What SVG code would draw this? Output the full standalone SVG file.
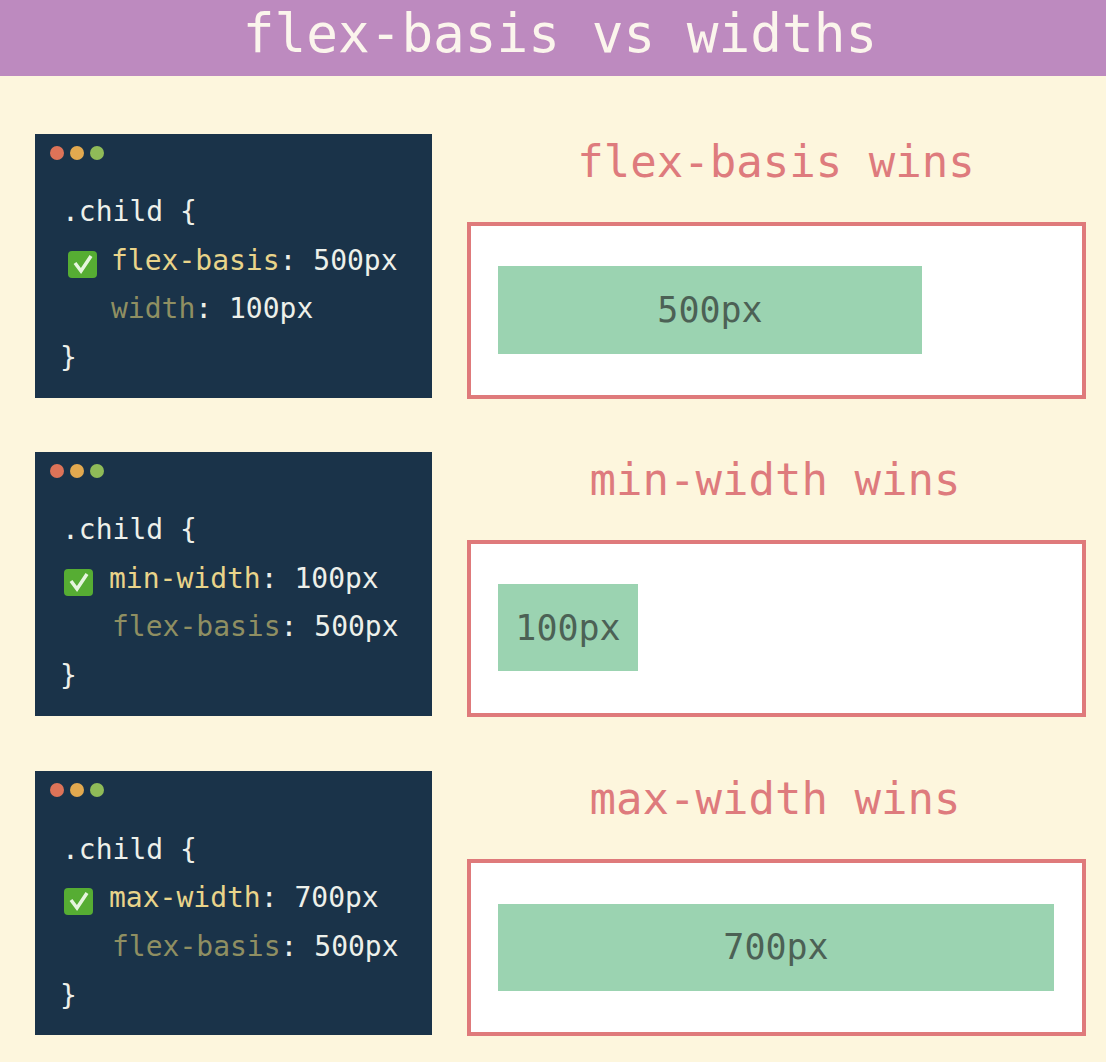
<svg xmlns="http://www.w3.org/2000/svg" width="1106" height="1062" viewBox="0 0 1106 1062">
<style>
.m{font-family:"DejaVu Sans Mono","Liberation Mono",monospace}
.c{font-size:28px;fill:#edf0ea}
.y{fill:#e9d48a}.d{fill:#8f8f62}
.h{font-size:44px;fill:#de7b7d;text-anchor:middle}
.l{font-size:35px;fill:#4c6155;text-anchor:middle}
.card{fill:#1a3349}.box{fill:#fff;stroke:#df7a7b;stroke-width:4}.bar{fill:#9bd3b1}
.chk{fill:#56ad33}.tick{fill:none;stroke:#e6f5de;stroke-width:3.5}
</style>
<rect width="1106" height="1062" fill="#fdf6dd"/>
<g id="title"><rect width="1106" height="76" fill="#bd8abf"/><text class="m" x="560" y="52" font-size="52.7" fill="#fbf5ec" text-anchor="middle">flex-basis vs widths</text></g>
<g id="code1"><rect class="card" x="35" y="134" width="397" height="264"/><circle cx="57" cy="153" r="7" fill="#dd7358"/><circle cx="77" cy="153" r="7" fill="#e2a94f"/><circle cx="97" cy="153" r="7" fill="#8fbb58"/>
<text class="m c" x="62" y="221">.child {</text>
<rect class="chk" x="68" y="251" width="29" height="27" rx="4"/><path class="tick" d="M75 263l6 8 10-15"/>
<text class="m c" x="111" y="270"><tspan class="y">flex-basis</tspan>: 500px</text>
<text class="m c" x="111" y="318"><tspan class="d">width</tspan>: 100px</text>
<text class="m c" x="60" y="367">}</text></g>
<g id="result1"><text class="m h" x="776" y="177">flex-basis wins</text><rect class="box" x="469" y="224" width="615" height="173"/><rect class="bar" x="498" y="266" width="424" height="88"/><text class="m l" x="710" y="322">500px</text></g>
<g id="code2"><rect class="card" x="35" y="452" width="397" height="264"/><circle cx="57" cy="471" r="7" fill="#dd7358"/><circle cx="77" cy="471" r="7" fill="#e2a94f"/><circle cx="97" cy="471" r="7" fill="#8fbb58"/>
<text class="m c" x="62" y="539">.child {</text>
<rect class="chk" x="64" y="569" width="29" height="27" rx="4"/><path class="tick" d="M71 581l6 8 10-15"/>
<text class="m c" x="109" y="588"><tspan class="y">min-width</tspan>: 100px</text>
<text class="m c" x="112" y="636"><tspan class="d">flex-basis</tspan>: 500px</text>
<text class="m c" x="60" y="685">}</text></g>
<g id="result2"><text class="m h" x="775" y="495">min-width wins</text><rect class="box" x="469" y="542" width="615" height="173"/><rect class="bar" x="498" y="584" width="140" height="87"/><text class="m l" x="568" y="640">100px</text></g>
<g id="code3"><rect class="card" x="35" y="771" width="397" height="264"/><circle cx="57" cy="790" r="7" fill="#dd7358"/><circle cx="77" cy="790" r="7" fill="#e2a94f"/><circle cx="97" cy="790" r="7" fill="#8fbb58"/>
<text class="m c" x="62" y="859">.child {</text>
<rect class="chk" x="64" y="888" width="29" height="27" rx="4"/><path class="tick" d="M71 900l6 8 10-15"/>
<text class="m c" x="109" y="907"><tspan class="y">max-width</tspan>: 700px</text>
<text class="m c" x="112" y="956"><tspan class="d">flex-basis</tspan>: 500px</text>
<text class="m c" x="60" y="1005">}</text></g>
<g id="result3"><text class="m h" x="775" y="814">max-width wins</text><rect class="box" x="469" y="861" width="615" height="173"/><rect class="bar" x="498" y="904" width="556" height="87"/><text class="m l" x="776" y="959">700px</text></g>
</svg>
